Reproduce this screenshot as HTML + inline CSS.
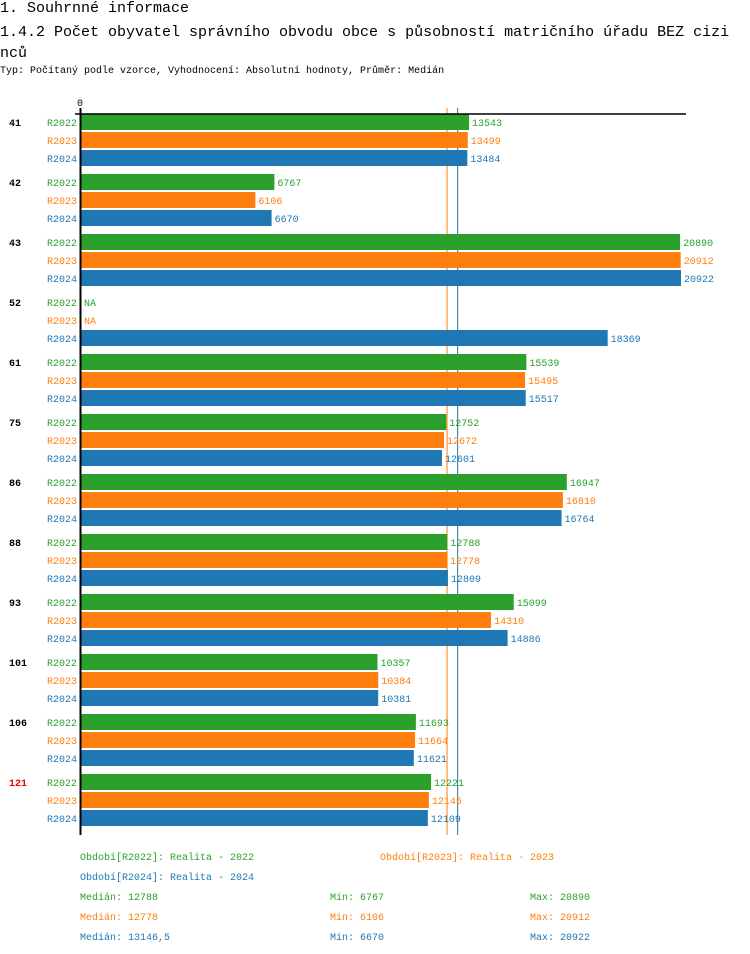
<!DOCTYPE html>
<html><head><meta charset="utf-8"><style>
body{margin:0;background:#fff;width:750px;height:954px;overflow:hidden;font-family:"Liberation Mono",monospace}
.t{position:absolute;white-space:nowrap}
</style></head><body>
<div class="t" style="left:0;top:0;font-size:15px;line-height:18px">1. Souhrnné informace</div>
<div class="t" style="left:0;top:22px;font-size:15px;line-height:21px;width:740px;white-space:normal">1.4.2 Počet obyvatel správního obvodu obce s působností matričního úřadu BEZ cizi nců</div>
<div class="t" style="left:0;top:66px;font-size:10px">Typ: Počítaný podle vzorce, Vyhodnocení: Absolutní hodnoty, Průměr: Medián</div>
<svg id="c" width="750" height="954" style="position:absolute;left:0;top:0" font-family="Liberation Mono, monospace" font-size="10"></svg>
<script>
const categories=["41","42","43","52","61","75","86","88","93","101","106","121"];
const r2022=[13543,6767,20890,null,15539,12752,16947,12788,15099,10357,11693,12221];
const r2023=[13499,6106,20912,null,15495,12672,16810,12778,14310,10384,11664,12145];
const r2024=[13484,6670,20922,18369,15517,12601,16764,12809,14886,10381,11621,12109];
const seriesNames=["R2022","R2023","R2024"];
const medians=[12788,12778,13146.5];
const colors=["#2ca02c","#ff7f0e","#1f77b4"];
const x0=80,k=601/20922;
const xs=v=>x0+v*k;
const rowY=(g,s)=>122+g*60+s*18;
const svg=document.getElementById('c');
const NS="http://www.w3.org/2000/svg";
function mk(t,a,txt){const e=document.createElementNS(NS,t);for(const q in a)e.setAttribute(q,a[q]);if(txt!=null)e.textContent=txt;svg.appendChild(e);return e;}
const series=[r2022,r2023,r2024];
medians.forEach((m,i)=>{
  if(i==0)return;
  const ln=mk('line',{x1:xs(m),x2:xs(m),y1:108,y2:835,stroke:colors[i],'stroke-width':1});
  
  
});
categories.forEach((c,g)=>{
  const l=mk('text',{x:9,y:rowY(g,0)+4,'font-weight':'bold',fill:g==11?'#e00':'#000'},c);
  
  
  series.forEach((arr,s)=>{
    const y=rowY(g,s);
    const n=mk('text',{x:47,y:y+4,fill:colors[s]},seriesNames[s]);
    
    
    const v=arr[g];
    if(v==null){
      const na=mk('text',{x:84,y:y+4,fill:colors[s]},'NA');
      
      
      return;
    }
    const b=mk('rect',{x:x0,y:y-8,width:xs(v)-x0,height:16,fill:colors[s]});
    
    
    const t=mk('text',{x:xs(v)+3,y:y+4,fill:colors[s]},String(v));
    
    
  });
});
const ax=mk('line',{x1:75,x2:686,y1:114,y2:114,stroke:'#000','stroke-width':1.5});


const ay=mk('line',{x1:80.5,x2:80.5,y1:108,y2:835,stroke:'#000','stroke-width':2});


const z=mk('text',{x:77,y:106,fill:'#000'},'0');


const legend=[[80,860,0,"Období[R2022]: Realita - 2022"],[380,860,1,"Období[R2023]: Realita - 2023"],[80,880,2,"Období[R2024]: Realita - 2024"],
[80,900,0,"Medián: 12788"],[330,900,0,"Min: 6767"],[530,900,0,"Max: 20890"],
[80,920,1,"Medián: 12778"],[330,920,1,"Min: 6106"],[530,920,1,"Max: 20912"],
[80,940,2,"Medián: 13146,5"],[330,940,2,"Min: 6670"],[530,940,2,"Max: 20922"]];
legend.forEach(([x,y,c,t])=>{
  const e=mk('text',{x:x,y:y,fill:colors[c]},t);
  
  
});
</script>
</body></html>
